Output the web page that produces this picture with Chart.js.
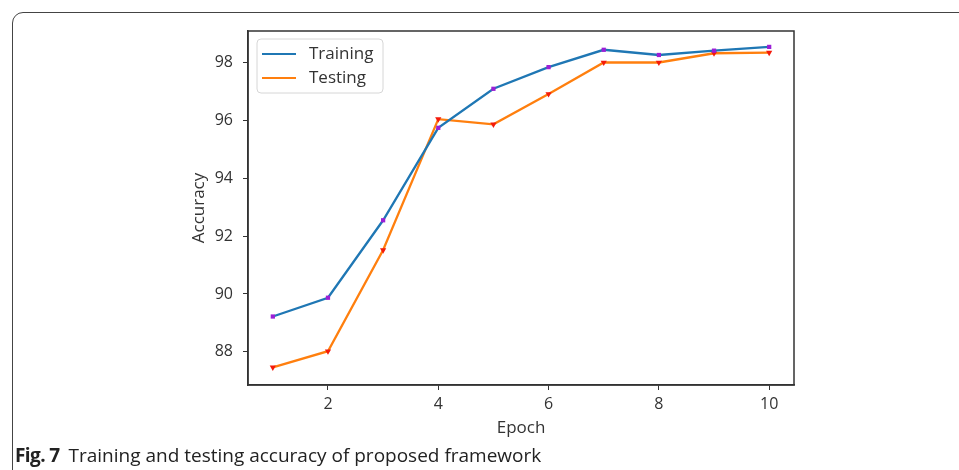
<!DOCTYPE html>
<html lang="en">
<head>
    <meta charset="UTF-8">
    <title>Training and testing accuracy</title>
    <script src="https://cdn.jsdelivr.net/npm/chart.js"></script>
    <style>
        html, body {
            margin: 0;
            padding: 0;
            background: #fff;
            width: 959px;
            height: 470px;
            overflow: hidden;
        }

        .frame {
            position: absolute;
            left: 12px;
            top: 12px;
            width: 980px;
            height: 500px;
            border: 1.5px solid #444;
            border-radius: 11px;
        }

        .chart-box {
            position: absolute;
            left: 0;
            top: 0;
            width: 959px;
            height: 470px;
        }

        .caption {
            position: absolute;
            left: 15px;
            top: 442px;
            font-family: "Open Sans", sans-serif;
            font-size: 19px;
            color: #222;
            white-space: nowrap;
        }

        .caption b {
            font-weight: 700;
            letter-spacing: -0.6px;
            margin-right: 4px;
        }
    </style>
</head>
<body>
    <div class="frame"></div>
    <div class="chart-box">
        <canvas id="accChart" width="959" height="470"></canvas>
    </div>
    <div class="caption"><b>Fig. 7</b> Training and testing accuracy of proposed framework</div>

    <script>
        // values
        const epochs = [1, 2, 3, 4, 5, 6, 7, 8, 9, 10];
        const trainingAcc = [89.22, 89.87, 92.55, 95.75, 97.1, 97.85, 98.45, 98.27, 98.42, 98.55];
        const testingAcc = [87.46, 88.02, 91.52, 96.05, 95.87, 96.92, 98.01, 98.01, 98.33, 98.35];
        const xTicks = [2, 4, 6, 8, 10];
        const yTicks = [88, 90, 92, 94, 96, 98];

        const tickFont = { family: 'Open Sans', size: 16 };
        const titleFont = { family: 'Open Sans', size: 17 };
        const textColor = '#333';

        // matplotlib-style box round the axes and legend inside the plot area
        const axesBoxAndLegend = {
            id: 'axesBoxAndLegend',
            afterDraw(chart) {
                const ctx = chart.ctx;
                const area = chart.chartArea;
                ctx.save();
                ctx.strokeStyle = '#333';
                ctx.lineWidth = 1.5;
                ctx.strokeRect(area.left, area.top, area.right - area.left, area.bottom - area.top);

                const x = area.left + 9, y = area.top + 8;
                const w = 126, h = 54;
                ctx.beginPath();
                ctx.roundRect(x, y, w, h, 4);
                ctx.fillStyle = 'rgba(255,255,255,0.85)';
                ctx.fill();
                ctx.strokeStyle = '#d6d6d6';
                ctx.lineWidth = 1;
                ctx.stroke();
                ctx.font = '17px "Open Sans"';
                ctx.textBaseline = 'middle';
                chart.data.datasets.forEach((ds, i) => {
                    const ly = y + 15 + i * 24;
                    ctx.beginPath();
                    ctx.moveTo(x + 5, ly);
                    ctx.lineTo(x + 39, ly);
                    ctx.strokeStyle = ds.borderColor;
                    ctx.lineWidth = 2.2;
                    ctx.stroke();
                    ctx.fillStyle = textColor;
                    ctx.fillText(ds.label, x + 52, ly);
                });
                ctx.restore();
            }
        };

        new Chart(document.getElementById('accChart'), {
            type: 'line',
            data: {
                datasets: [{
                    label: 'Training',
                    data: epochs.map((e, i) => ({ x: e, y: trainingAcc[i] })),
                    borderColor: '#1f77b4',
                    borderWidth: 2.3,
                    pointStyle: 'rect',
                    pointRadius: 3,
                    pointBackgroundColor: '#9b1fd6',
                    pointBorderWidth: 0,
                    tension: 0
                }, {
                    label: 'Testing',
                    data: epochs.map((e, i) => ({ x: e, y: testingAcc[i] })),
                    borderColor: '#ff7f0e',
                    borderWidth: 2.3,
                    pointStyle: 'triangle',
                    rotation: 180,
                    pointRadius: 3.6,
                    pointBackgroundColor: '#f41a0a',
                    pointBorderWidth: 0,
                    tension: 0
                }]
            },
            options: {
                responsive: false,
                animation: false,
                layout: {
                    padding: { left: 189, right: 165, top: 31, bottom: 32 }
                },
                plugins: {
                    legend: { display: false },
                    tooltip: { enabled: false }
                },
                scales: {
                    x: {
                        type: 'linear',
                        min: 0.55,
                        max: 10.45,
                        afterBuildTicks: s => { s.ticks = xTicks.map(v => ({ value: v })); },
                        afterFit: s => { s.height = 53; },
                        grid: {
                            drawOnChartArea: false,
                            tickLength: 5,
                            tickColor: '#333'
                        },
                        border: { color: '#333', width: 1.5 },
                        ticks: { font: tickFont, color: textColor, padding: 5, maxRotation: 0 },
                        title: {
                            display: true,
                            text: 'Epoch',
                            font: titleFont,
                            color: textColor,
                            padding: 0
                        }
                    },
                    y: {
                        min: 86.85,
                        max: 99.1,
                        afterBuildTicks: s => { s.ticks = yTicks.map(v => ({ value: v })); },
                        afterFit: s => { s.width = 248 - 189; },
                        grid: {
                            drawOnChartArea: false,
                            tickLength: 5,
                            tickColor: '#333'
                        },
                        border: { color: '#333', width: 1.5 },
                        ticks: { font: tickFont, color: textColor, padding: 10 },
                        title: {
                            display: true,
                            text: 'Accuracy',
                            font: titleFont,
                            color: textColor,
                            padding: 0
                        }
                    }
                }
            },
            plugins: [axesBoxAndLegend]
        });
    </script>
</body>
</html>
